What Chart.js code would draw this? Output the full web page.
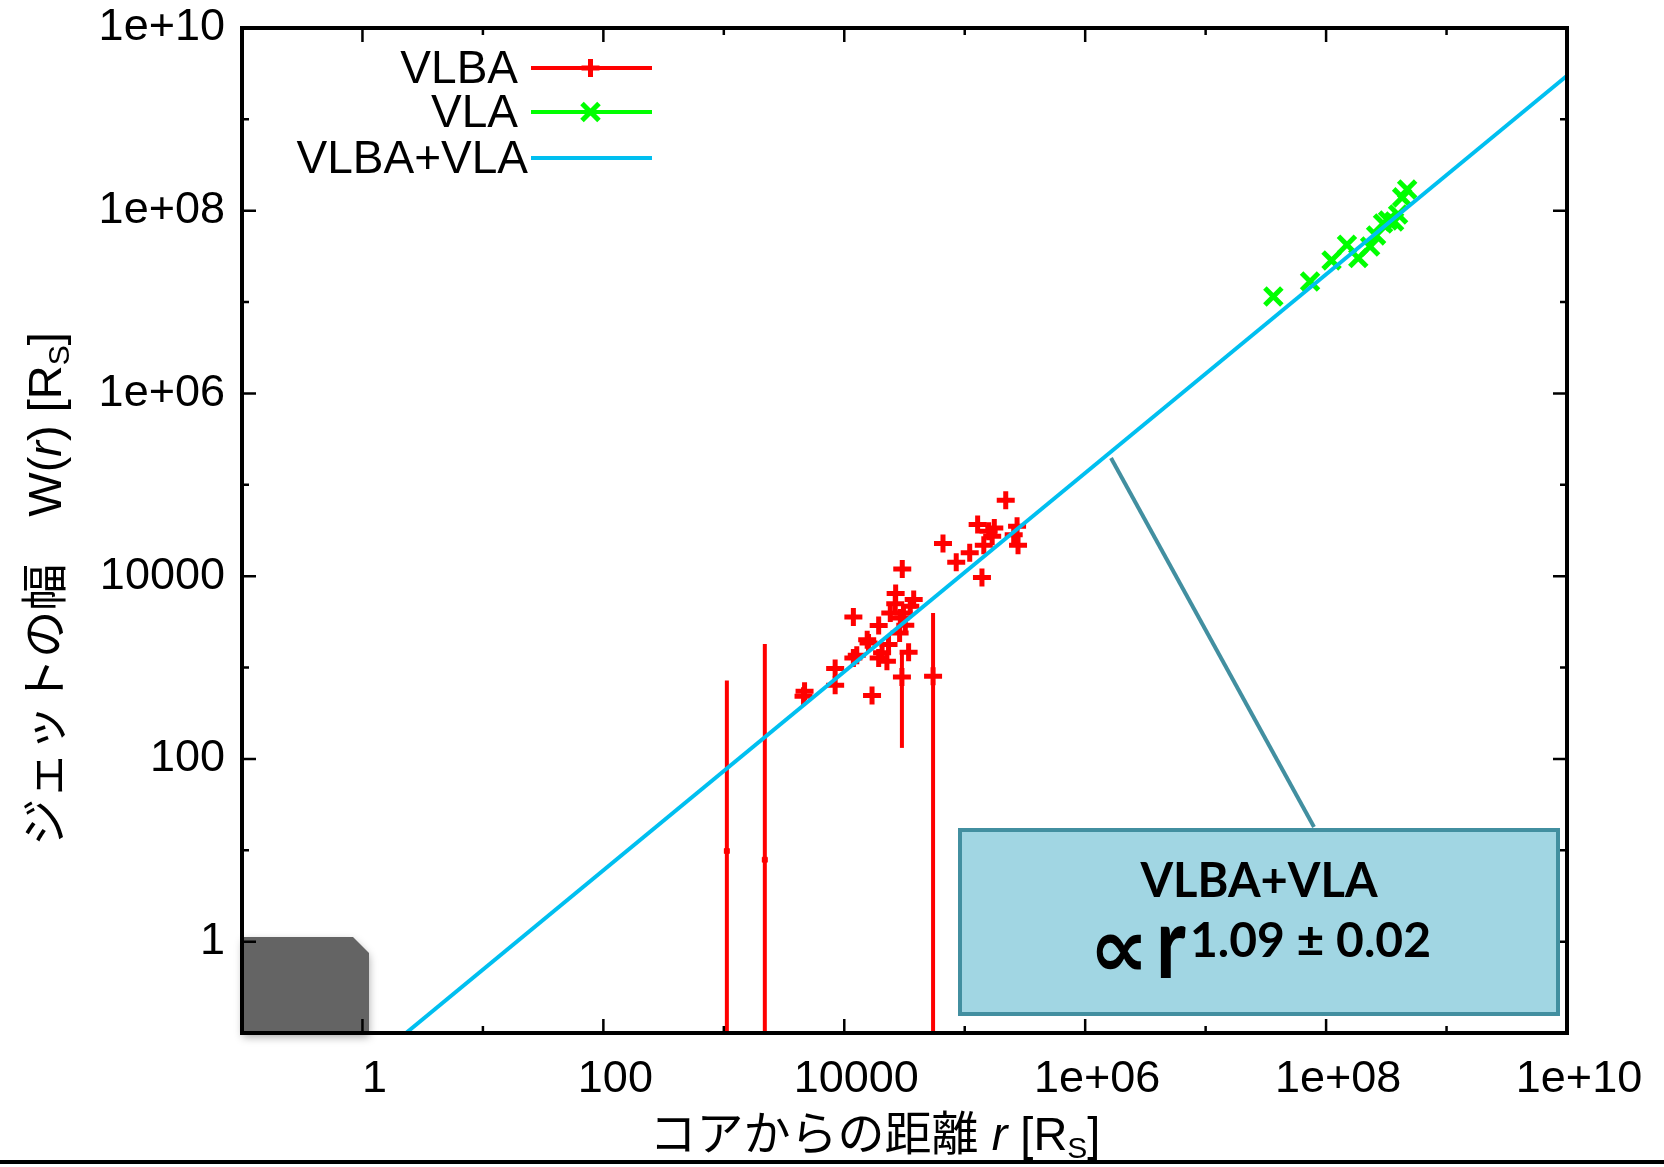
<!DOCTYPE html>
<html>
<head>
<meta charset="utf-8">
<script src="https://cdn.jsdelivr.net/npm/chart.js@4.4.0/dist/chart.umd.min.js"></script>
<style>
html, body { margin: 0; padding: 0; background: #ffffff; }
canvas { display: block; }
</style>
</head>
<body>
<canvas id="jet-width-chart" width="1664" height="1167"></canvas>
<script>
/*==== data ====*/
// VLBA : distance from core r [Rs], width W [Rs], error bar ends (null = no bar)
const vlbaR = [2.19e5, 1.28e5, 1.58e5, 1.76e5, 1.69e5, 1.44e5, 2.72e5, 2.55e5, 2.77e5, 6.6e4,
    1.10e5, 8.5e4, 1.39e5, 3.03e4, 2.67e4, 2.65e4, 3.77e4, 3.53e4, 2.41e4, 3.1e4,
    2.92e4, 1.19e4, 1.93e4, 3.21e4, 2.88e4, 1.55e4, 1.59e4, 2.33e4, 1.27e4, 1.19e4,
    1.93e4, 2.26e4, 2.06e4, 3.42e4, 8.4e3, 8.4e3, 4.68e3, 4.59e3, 1.70e4, 3.01e4,
    5.46e4, 1060, 2190];
const vlbaW = [6.76e4, 3.67e4, 3.10e4, 3.37e4, 2.73e4, 2.18e4, 3.52e4, 2.85e4, 2.18e4, 2.28e4,
    1.80e4, 1.42e4, 9.7e3, 1.20e4, 6.46e3, 5.0e3, 5.54e3, 4.69e3, 3.95e3, 3.95e3,
    3.49e3, 3.58e3, 2.88e3, 2.9e3, 2.39e3, 2.02e3, 1.86e3, 1.79e3, 1.36e3, 1.27e3,
    1.27e3, 1.17e3, 1.45e3, 1.47e3, 975, 640, 551, 485, 494, 789,
    803, 9.8, 7.9];
const vlbaErrLow = [null, null, null, null, null, null, null, null, null, null,
    null, null, null, null, null, null, null, null, null, null,
    null, null, null, null, null, null, null, null, null, null,
    null, null, null, null, null, null, null, null, null, 132,
    0.1, 0.1, 0.1];
const vlbaErrHigh = [null, null, null, null, null, null, null, null, null, null,
    null, null, null, null, null, null, null, null, null, null,
    null, null, null, null, null, null, null, null, null, null,
    null, null, null, null, null, null, null, null, null, 1450,
    3950, 721, 1811];

// VLA
const vlaR = [3.65e7, 7.36e7, 1.11e8, 1.49e8, 1.85e8, 2.32e8, 2.60e8, 2.97e8, 3.27e8, 3.67e8, 3.96e8, 4.28e8, 4.71e8];
const vlaW = [1.15e7, 1.68e7, 2.86e7, 4.25e7, 3.03e7, 4.06e7, 5.37e7, 7.26e7, 7.83e7, 7.64e7, 9.1e7, 1.40e8, 1.71e8];

// VLBA+VLA fit line (ends)
const fitR = [2.3, 1e10];
const fitW = [0.1, 3.0e9];

// axes
const tickValues = [0.1, 1, 10, 100, 1e3, 1e4, 1e5, 1e6, 1e7, 1e8, 1e9, 1e10];
const xTickLabels = ['', '1', '', '100', '', '10000', '', '1e+06', '', '1e+08', '', '1e+10'];
const yTickLabels = ['', '1', '', '100', '', '10000', '', '1e+06', '', '1e+08', '', '1e+10'];

const seriesLabels = ['VLBA', 'VLA', 'VLBA+VLA'];
const fitTitle = 'VLBA+VLA';
const fitExponent = '1.09 \u00b1 0.02';

function toPoints(xs, ys){
    return xs.map(function(x, i){
        return {x: x, y: ys[i]};
    });
}

/*==== helpers ====*/
// draw a row of text pieces (different fonts / offsets) one after another
function drawParts(ctx, parts, x, y, align){
    var total = 0;
    parts.forEach(function(p){
        ctx.font = p.font;
        p.w = ctx.measureText(p.text).width;
        total += p.w;
    });
    var cx = x;
    if(align === 'center') cx = x - total / 2;
    if(align === 'right') cx = x - total;
    parts.forEach(function(p){
        ctx.font = p.font;
        ctx.fillText(p.text, cx, y + (p.dy || 0));
        cx += p.w;
    });
}

/*==== plugins ====*/
const underlayPlugin = {
    id: 'underlay',
    beforeDatasetsDraw: function(chart){
        var ctx = chart.ctx, area = chart.chartArea;
        var xs = chart.scales.x, ys = chart.scales.y;
        ctx.save();
        // grey patch in the lower left corner
        var l = area.left + 1, b = area.bottom, w = 126, h = 96;
        ctx.shadowColor = 'rgba(0,0,0,0.35)';
        ctx.shadowBlur = 8;
        ctx.shadowOffsetY = 4;
        ctx.fillStyle = '#646464';
        ctx.beginPath();
        ctx.moveTo(l, b);
        ctx.lineTo(l, b - h);
        ctx.lineTo(l + w - 16, b - h);
        ctx.lineTo(l + w, b - h + 16);
        ctx.lineTo(l + w, b);
        ctx.closePath();
        ctx.fill();
        ctx.restore();

        // VLBA error bars
        ctx.save();
        ctx.beginPath();
        ctx.rect(area.left, area.top, area.right - area.left, area.bottom - area.top);
        ctx.clip();
        ctx.strokeStyle = '#ff0000';
        ctx.lineWidth = 4;
        for(var i = 0; i < vlbaR.length; i++){
            if(vlbaErrLow[i] === null) continue;
            var px = xs.getPixelForValue(vlbaR[i]);
            ctx.beginPath();
            ctx.moveTo(px, ys.getPixelForValue(vlbaErrLow[i]));
            ctx.lineTo(px, ys.getPixelForValue(vlbaErrHigh[i]));
            ctx.stroke();
        }
        ctx.restore();
    }
};

const overlayPlugin = {
    id: 'overlay',
    afterDraw: function(chart){
        var ctx = chart.ctx, area = chart.chartArea;
        var xs = chart.scales.x, ys = chart.scales.y;
        ctx.save();

        // frame
        ctx.strokeStyle = '#000000';
        ctx.lineWidth = 4;
        ctx.strokeRect(area.left, area.top, area.right - area.left, area.bottom - area.top);

        // inward ticks on all four sides
        ctx.lineWidth = 2.5;
        tickValues.forEach(function(v, i){
            var len = xTickLabels[i] !== '' ? 14 : 7;
            var px = xs.getPixelForValue(v);
            ctx.beginPath();
            ctx.moveTo(px, area.bottom); ctx.lineTo(px, area.bottom - len);
            ctx.moveTo(px, area.top); ctx.lineTo(px, area.top + len);
            ctx.stroke();
            len = yTickLabels[i] !== '' ? 14 : 7;
            var py = ys.getPixelForValue(v);
            ctx.beginPath();
            ctx.moveTo(area.left, py); ctx.lineTo(area.left + len, py);
            ctx.moveTo(area.right, py); ctx.lineTo(area.right - len, py);
            ctx.stroke();
        });

        // legend (text right aligned, sample line on the right)
        var rowY = [area.top + 40, area.top + 84, area.top + 130];
        var lineL = area.left + 289, lineR = area.left + 410;
        var markerRadius = [9, 12, 0];
        chart.data.datasets.forEach(function(ds, i){
            ctx.fillStyle = '#000000';
            ctx.font = '46px "Liberation Sans", Arial, sans-serif';
            ctx.textAlign = 'right';
            ctx.textBaseline = 'middle';
            ctx.fillText(ds.label, area.left + 276 + (i === 2 ? 10 : 0), rowY[i] + 2);
            ctx.strokeStyle = ds.borderColor;
            ctx.lineWidth = 4;
            ctx.beginPath();
            ctx.moveTo(lineL, rowY[i]);
            ctx.lineTo(lineR, rowY[i]);
            ctx.stroke();
            if(markerRadius[i] > 0){
                ctx.lineWidth = ds.pointBorderWidth;
                Chart.helpers.drawPoint(ctx, {
                    pointStyle: ds.pointStyle,
                    radius: markerRadius[i],
                    rotation: 0,
                    borderWidth: ds.pointBorderWidth
                }, (lineL + lineR) / 2 - 1, rowY[i]);
            }
        });

        // fit annotation: pointer + box
        var bx = 960, by = 830, bw = 598, bh = 184;
        ctx.strokeStyle = '#428fa0';
        ctx.lineWidth = 4;
        ctx.beginPath();
        ctx.moveTo(1111, 458);
        ctx.lineTo(1314, 827);
        ctx.stroke();
        ctx.fillStyle = '#a1d6e3';
        ctx.beginPath();
        ctx.rect(bx, by, bw, bh);
        ctx.fill();
        ctx.stroke();

        ctx.fillStyle = '#000000';
        ctx.textAlign = 'left';
        ctx.textBaseline = 'alphabetic';
        drawParts(ctx, [{text: fitTitle, font: 'bold 47px Lato, "DejaVu Sans", sans-serif'}], bx + bw / 2, by + 67, 'center');
        ctx.font = 'bold 84px "DejaVu Sans", sans-serif';
        ctx.fillText('\u221d', 1089, 977);
        ctx.save();
        ctx.translate(1156, 978);
        ctx.scale(0.8, 1);
        ctx.font = 'bold 100px Lato, "DejaVu Sans", sans-serif';
        ctx.fillText('r', 0, 0);
        ctx.restore();
        ctx.font = 'bold 48px Lato, "DejaVu Sans", sans-serif';
        ctx.fillText(fitExponent, 1190, 957);

        // axis titles
        var jp = '47px "Liberation Sans", "Noto Sans CJK JP", sans-serif';
        var jpItalic = 'italic 47px "Liberation Sans", "Noto Sans CJK JP", sans-serif';
        var sub = '30px "Liberation Sans", sans-serif';
        drawParts(ctx, [
            {text: '\u30b3\u30a2\u304b\u3089\u306e\u8ddd\u96e2 ', font: jp},
            {text: 'r', font: jpItalic},
            {text: ' [R', font: jp},
            {text: 'S', font: sub, dy: 8},
            {text: ']', font: jp}
        ], 875, 1150, 'center');

        ctx.save();
        ctx.translate(61, 589);
        ctx.rotate(-Math.PI / 2);
        drawParts(ctx, [
            {text: '\u30b8\u30a7\u30c3\u30c8\u306e\u5e45\u3000W(', font: jp},
            {text: 'r', font: jpItalic},
            {text: ') [R', font: jp},
            {text: 'S', font: sub, dy: 8},
            {text: ']', font: jp}
        ], 0, 0, 'center');
        ctx.restore();

        // rule under the figure
        ctx.fillStyle = '#000000';
        ctx.fillRect(0, 1160, chart.width, 4);
        ctx.restore();
    }
};

/*==== config ====*/
const tickFont = {family: '"Liberation Sans", Arial, sans-serif', size: 45};

const config_jet_width = {
    type: 'scatter',
    data: {
        datasets: [
            {
                label: seriesLabels[0],
                data: toPoints(vlbaR, vlbaW),
                borderColor: '#ff0000',
                backgroundColor: '#ff0000',
                pointStyle: 'cross',
                pointRadius: function(c){ return vlbaW[c.dataIndex] < 50 ? 3 : 9; },
                pointBorderColor: '#ff0000',
                pointBorderWidth: 5,
                order: 2
            },
            {
                label: seriesLabels[1],
                data: toPoints(vlaR, vlaW),
                borderColor: '#00ff00',
                backgroundColor: '#00ff00',
                pointStyle: 'crossRot',
                pointRadius: 12,
                pointBorderColor: '#00ff00',
                pointBorderWidth: 5,
                order: 1
            },
            {
                label: seriesLabels[2],
                data: toPoints(fitR, fitW),
                showLine: true,
                borderColor: '#00bff0',
                borderWidth: 4,
                pointRadius: 0,
                fill: false,
                order: 0
            }
        ]
    },
    options: {
        responsive: false,
        animation: false,
        events: [],
        layout: {padding: {left: 0, top: 28, right: 97, bottom: 0}},
        plugins: {
            legend: {display: false},
            tooltip: {enabled: false}
        },
        scales: {
            x: {
                type: 'logarithmic',
                position: 'bottom',
                min: 0.1,
                max: 1e10,
                grid: {display: false, drawTicks: false},
                border: {display: false},
                afterBuildTicks: function(scale){
                    scale.ticks = tickValues.map(function(v){ return {value: v}; });
                },
                afterFit: function(scale){
                    scale.height = 134;
                    scale.paddingLeft = 0;
                    scale.paddingRight = 0;
                },
                ticks: {
                    autoSkip: false,
                    maxRotation: 0,
                    color: '#000000',
                    font: tickFont,
                    padding: 20,
                    labelOffset: 12,
                    callback: function(value, index){ return xTickLabels[index]; }
                }
            },
            y: {
                type: 'logarithmic',
                position: 'left',
                min: 0.1,
                max: 1e10,
                grid: {display: false, drawTicks: false},
                border: {display: false},
                afterBuildTicks: function(scale){
                    scale.ticks = tickValues.map(function(v){ return {value: v}; });
                },
                afterFit: function(scale){
                    scale.width = 242;
                    scale.paddingTop = 0;
                    scale.paddingBottom = 0;
                },
                ticks: {
                    autoSkip: false,
                    color: '#000000',
                    font: tickFont,
                    padding: 17,
                    callback: function(value, index){ return yTickLabels[index]; }
                }
            }
        }
    },
    plugins: [underlayPlugin, overlayPlugin]
};

/*===== render graphic =====*/
var jetWidthChart = new Chart(document.getElementById('jet-width-chart'), config_jet_width);
</script>
</body>
</html>
